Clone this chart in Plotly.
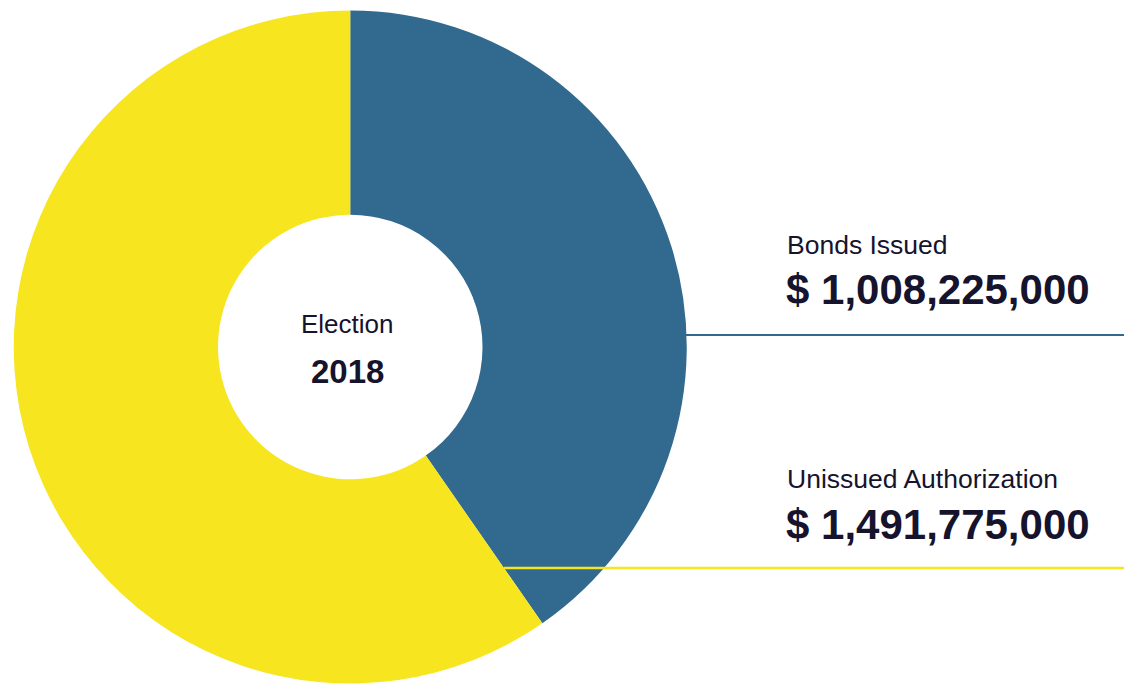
import math
import plotly.graph_objects as go

# ---- data ----
labels = ["Bonds Issued", "Unissued Authorization"]
values = [1008225000, 1491775000]
colors = ["#31698f", "#f6e51f"]
center_title = "Election"
center_year = "2018"

W, H = 1124, 685
TXT = "#16132d"
FONT = "Liberation Sans, Arial, sans-serif"

# pie geometry in pixels
cx, cy, R = 350.25, 347.0, 336.5
hole = 0.393


def px(x):
    return x / W


def py(y):
    return 1 - y / H


fig = go.Figure(
    go.Pie(
        labels=labels,
        values=values,
        marker=dict(colors=colors, line=dict(width=0)),
        hole=hole,
        sort=False,
        direction="clockwise",
        rotation=0,
        textinfo="none",
        hoverinfo="label+value",
        domain=dict(x=[px(cx - R), px(cx + R)], y=[py(cy + R), py(cy - R)]),
        showlegend=False,
    )
)

# leader lines
total = sum(values)
frac_blue = values[0] / total
ang = 2 * math.pi * frac_blue
dx, dy = math.sin(ang), -math.cos(ang)  # screen direction of boundary (y down)

y_blue = 335
x_blue = cx + math.sqrt(R**2 - (y_blue - cy) ** 2) - 1
y_yel = 568
t = (y_yel - cy) / dy
x_yel = cx + t * dx

fig.add_shape(type="line", xref="paper", yref="paper",
              x0=px(x_blue), x1=1, y0=py(y_blue), y1=py(y_blue),
              line=dict(color=colors[0], width=2))
fig.add_shape(type="line", xref="paper", yref="paper",
              x0=px(x_yel), x1=1, y0=py(y_yel), y1=py(y_yel),
              line=dict(color=colors[1], width=2.5))


def fmt(v):
    return "$ {:,}".format(v)


annots = [
    (labels[0], 785, 245, 26.5, False, "left"),
    (fmt(values[0]), 784, 290, 42, True, "left"),
    (labels[1], 785, 479, 26.5, False, "left"),
    (fmt(values[1]), 784, 524, 42, True, "left"),
    (center_title, 347, 324, 26, False, "center"),
    (center_year, 347, 371, 33, True, "center"),
]
for text, x, y, size, bold, anchor in annots:
    fig.add_annotation(
        xref="paper", yref="paper", x=px(x), y=py(y),
        xanchor=anchor, yanchor="middle", showarrow=False,
        text=f"<b>{text}</b>" if bold else text,
        font=dict(family=FONT, size=size, color=TXT),
    )

fig.update_layout(
    width=W, height=H,
    margin=dict(l=0, r=0, t=0, b=0),
    paper_bgcolor="white",
    plot_bgcolor="white",
)

fig.write_html(
    "out.html",
    config={"displayModeBar": False},
    post_script="document.body.style.margin='0';",
)
